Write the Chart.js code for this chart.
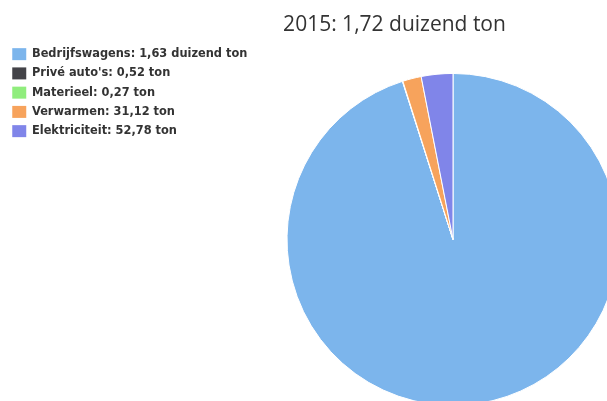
<!DOCTYPE html>
<html>
<head>
<meta charset="utf-8">
<script src="https://cdn.jsdelivr.net/npm/chart.js@4.4.1/dist/chart.umd.min.js"></script>
<style>
  html, body { margin: 0; padding: 0; background: #fff; overflow: hidden; width: 607px; height: 401px; }
  #wrap { position: absolute; left: 0; top: 0; width: 784px; height: 438px; }
</style>
</head>
<body>
<div id="wrap"><canvas id="chart" width="784" height="438"></canvas></div>
<script>
'use strict';

/* ---- DATA ------------------------------------------------- */
const year = '2015';
const categories = ['Bedrijfswagens', "Privé auto's", 'Materieel', 'Verwarmen', 'Elektriciteit'];
const valuesTon = [1634, 0.52, 0.27, 31.12, 52.78];
const colors = ['#7cb5ec', '#434348', '#90ed7d', '#f7a35c', '#8085e9'];

/* Dutch formatting: 1634 -> "1,63 duizend ton", 31.12 -> "31,12 ton" */
function formatTon(v) {
  if (v >= 1000) return (v / 1000).toFixed(2).replace('.', ',') + ' duizend ton';
  return v.toFixed(2).replace('.', ',') + ' ton';
}

const total = valuesTon.reduce((a, b) => a + b, 0);

// legend keeps a narrow layout width (so the pie sits right of the title centre),
// but its drawing area is widened afterwards so the labels are not clipped
const wideLegend = {
  id: 'wideLegend',
  afterLayout(chart) {
    const lg = chart.legend;
    if (!lg) return;
    lg.width = 300;
    lg.right = lg.left + 300;
  }
};

new Chart(document.getElementById('chart'), {
  type: 'pie',
  plugins: [wideLegend],
  data: {
    labels: categories,
    datasets: [{
      data: valuesTon,
      backgroundColor: colors,
      borderColor: '#ffffff',
      borderWidth: 1,
      hoverOffset: 0,
      radius: 166
    }]
  },
  options: {
    responsive: false,
    animation: false,
    rotation: 0,
    layout: { padding: { left: 5, right: 0, top: 0, bottom: 0 } },
    plugins: {
      title: {
        display: true,
        text: year + ': ' + formatTon(total),
        color: '#333333',
        font: { family: 'Open Sans', size: 21, weight: 'normal' },
        padding: { top: 12.5, bottom: 3.2 }
      },
      legend: {
        position: 'left',
        align: 'start',
        fullSize: false,
        maxWidth: 117,
        labels: {
          boxWidth: 14,
          boxHeight: 12,
          padding: 7.25,
          color: '#333333',
          font: { family: 'DejaVu Sans', size: 11.4, weight: 'bold' },
          generateLabels(chart) {
            return categories.map((c, i) => ({
              text: c + ': ' + formatTon(valuesTon[i]),
              fillStyle: colors[i],
              strokeStyle: colors[i],
              lineWidth: 0,
              fontColor: '#333333',
              hidden: false,
              index: i
            }));
          }
        }
      },
      tooltip: { enabled: false }
    }
  }
});
</script>
</body>
</html>
